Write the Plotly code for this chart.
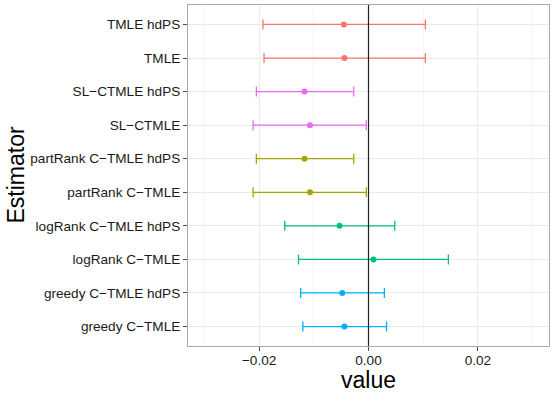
import plotly.graph_objects as go

# ---- data (bottom to top) ----
estimators = [
    "greedy C−TMLE", "greedy C−TMLE hdPS",
    "logRank C−TMLE", "logRank C−TMLE hdPS",
    "partRank C−TMLE", "partRank C−TMLE hdPS",
    "SL−CTMLE", "SL−CTMLE hdPS",
    "TMLE", "TMLE hdPS",
]
estimate = [-0.0044, -0.0048, 0.0009, -0.0053, -0.0107, -0.0117, -0.0107, -0.0117, -0.0044, -0.0045]
lower = [-0.0120, -0.0124, -0.0128, -0.0153, -0.0211, -0.0205, -0.0211, -0.0205, -0.0191, -0.0193]
upper = [0.0033, 0.0029, 0.0146, 0.0048, -0.0004, -0.0027, -0.0004, -0.0027, 0.0104, 0.0104]
colors = ["#00B0F6", "#00B0F6", "#00BF7D", "#00BF7D", "#A3A500", "#A3A500",
          "#E76BF3", "#E76BF3", "#F8766D", "#F8766D"]

x_ticks = [-0.02, 0.0, 0.02]
x_tick_text = ["−0.02", "0.00", "0.02"]

fig = go.Figure()
for name, est, lo, hi, col in zip(estimators, estimate, lower, upper, colors):
    fig.add_trace(go.Scatter(
        x=[est], y=[name], mode="markers",
        marker=dict(color=col, size=6),
        error_x=dict(type="data", symmetric=False,
                     array=[hi - est], arrayminus=[est - lo],
                     color=col, thickness=1.3, width=5),
        showlegend=False, name=name,
    ))

fig.add_shape(type="line", xref="x", yref="paper", x0=0, x1=0, y0=0, y1=1,
              line=dict(color="#222222", width=1.2), layer="above")

fig.update_layout(
    width=554, height=393,
    margin=dict(l=188, r=5, t=5, b=47, autoexpand=False),
    paper_bgcolor="white", plot_bgcolor="white",
    font=dict(family="Liberation Sans, Arial, sans-serif", color="#1a1a1a"),
    xaxis=dict(
        range=[-0.033, 0.033], tickvals=x_ticks, ticktext=x_tick_text,
        showgrid=True, gridcolor="#ebebeb", gridwidth=1,
        minor=dict(tickvals=[-0.03, -0.01, 0.01, 0.03], showgrid=True,
                   gridcolor="#f4f4f4", gridwidth=0.6, ticks=""),
        zeroline=False, ticks="outside", ticklen=4, tickcolor="#4d4d4d",
        tickfont=dict(size=13.6, color="#1a1a1a"), ticklabelstandoff=-2,
        showline=True, linecolor="#aaaaaa", mirror=True, linewidth=1,
        automargin=False,
    ),
    yaxis=dict(
        type="category", categoryorder="array", categoryarray=estimators,
        range=[-0.58, 9.58],
        showgrid=True, gridcolor="#ebebeb", gridwidth=1,
        ticks="outside", ticklen=4, tickcolor="#4d4d4d",
        tickfont=dict(size=13.6, color="#1a1a1a"),
        showline=True, linecolor="#aaaaaa", mirror=True, linewidth=1,
        automargin=False,
    ),
    annotations=[
        dict(text="Estimator", xref="paper", yref="paper",
             x=-(188 - 15) / 361, y=0.5, xanchor="center", yanchor="middle",
             textangle=-90, showarrow=False, font=dict(size=23, color="#000000")),
        dict(text="value", xref="paper", yref="paper",
             x=0.5, y=-(380 - 346) / 341, xanchor="center", yanchor="middle",
             showarrow=False, font=dict(size=23, color="#000000")),
    ],
)

fig.write_html("out.html", config={"displayModeBar": False},
               post_script="document.body.style.margin='0';")
